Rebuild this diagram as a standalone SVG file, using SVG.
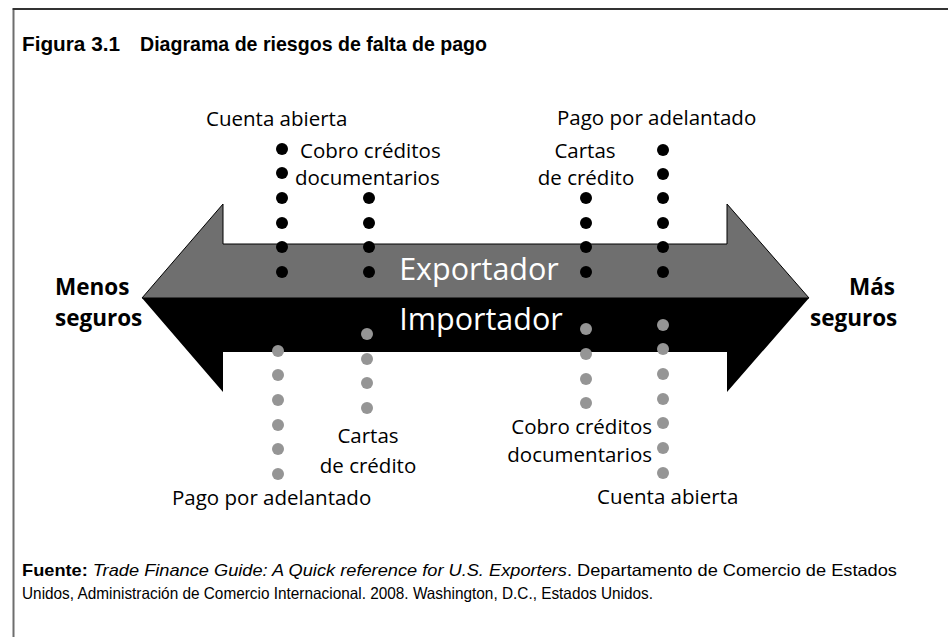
<svg xmlns="http://www.w3.org/2000/svg" width="948" height="637" viewBox="0 0 948 637">
<style>
.lbl{font-family:"Open Sans","Noto Sans",sans-serif;font-size:20.5px;fill:#000}
.side{font-family:"Open Sans","Noto Sans",sans-serif;font-size:22.5px;font-weight:bold;fill:#000}
.big{font-family:"Open Sans","Noto Sans",sans-serif;font-size:30.5px;fill:#fff;text-anchor:middle}
.title{font-family:"Liberation Sans",Arial,sans-serif;font-size:21px;font-weight:bold;fill:#000}
.foot{font-family:"Liberation Sans",Arial,sans-serif;font-size:16.5px;fill:#000}
.bd{fill:#000}
.gd{fill:#959595}
</style>
<rect width="948" height="637" fill="#fff"/>
<g id="frame">
<path d="M13.5,637 L13.5,9.5" stroke="#6e6e6e" stroke-width="2" fill="none"/>
<path d="M12.5,9 L948,9" stroke="#333" stroke-width="2" fill="none"/>
</g>
<g id="title">
<text class="title" x="22" y="51" textLength="98" lengthAdjust="spacingAndGlyphs">Figura 3.1</text>
<text class="title" x="140" y="51" textLength="347" lengthAdjust="spacingAndGlyphs">Diagrama de riesgos de falta de pago</text>
</g>
<g id="arrow">
<path d="M142,298 L223,204 L223,244 L727,244 L727,204 L809,298 Z" fill="#6f6f6f" stroke="#000" stroke-width="1"/>
<path d="M142,298 L809,298 L727,392 L727,352 L223,352 L223,392 Z" fill="#000"/>
</g>
<g id="connectors">
<g class="bd">
<circle cx="282" cy="149" r="6"/><circle cx="282" cy="173" r="6"/><circle cx="282" cy="198" r="6"/><circle cx="282" cy="223" r="6"/><circle cx="282" cy="247" r="6"/><circle cx="282" cy="272" r="6"/>
<circle cx="369" cy="198" r="6"/><circle cx="369" cy="223" r="6"/><circle cx="369" cy="247" r="6"/><circle cx="369" cy="272" r="6"/>
<circle cx="586" cy="198" r="6"/><circle cx="586" cy="223" r="6"/><circle cx="586" cy="247" r="6"/><circle cx="586" cy="272" r="6"/>
<circle cx="663" cy="150" r="6"/><circle cx="663" cy="174" r="6"/><circle cx="663" cy="198" r="6"/><circle cx="663" cy="223" r="6"/><circle cx="663" cy="247" r="6"/><circle cx="663" cy="272" r="6"/>
</g>
<g class="gd">
<circle cx="278" cy="351" r="6"/><circle cx="278" cy="375" r="6"/><circle cx="278" cy="400" r="6"/><circle cx="278" cy="425" r="6"/><circle cx="278" cy="449" r="6"/><circle cx="278" cy="474" r="6"/>
<circle cx="367" cy="334" r="6"/><circle cx="367" cy="359" r="6"/><circle cx="367" cy="383" r="6"/><circle cx="367" cy="408" r="6"/>
<circle cx="586" cy="329" r="6"/><circle cx="586" cy="354" r="6"/><circle cx="586" cy="379" r="6"/><circle cx="586" cy="403" r="6"/>
<circle cx="663" cy="325" r="6"/><circle cx="663" cy="349" r="6"/><circle cx="663" cy="374" r="6"/><circle cx="663" cy="399" r="6"/><circle cx="663" cy="423" r="6"/><circle cx="663" cy="448" r="6"/><circle cx="663" cy="473" r="6"/>
</g>
</g>
<g id="exportador"><text class="big" x="479" y="280">Exportador</text></g>
<g id="importador"><text class="big" x="481" y="330">Importador</text></g>
<g id="menos-seguros">
<text class="side" x="55" y="295">Menos</text>
<text class="side" x="55" y="326">seguros</text>
</g>
<g id="mas-seguros">
<text class="side" x="849" y="295">Más</text>
<text class="side" x="810" y="326">seguros</text>
</g>
<g id="exp-cuenta-abierta"><text class="lbl" x="206" y="126">Cuenta abierta</text></g>
<g id="exp-cobro"><text class="lbl" x="300" y="158">Cobro créditos</text><text class="lbl" x="295" y="185">documentarios</text></g>
<g id="exp-cartas"><text class="lbl" x="585" y="158" text-anchor="middle">Cartas</text><text class="lbl" x="586" y="185" text-anchor="middle">de crédito</text></g>
<g id="exp-pago"><text class="lbl" x="557" y="125">Pago por adelantado</text></g>
<g id="imp-pago"><text class="lbl" x="172" y="505">Pago por adelantado</text></g>
<g id="imp-cartas"><text class="lbl" x="368" y="443" text-anchor="middle">Cartas</text><text class="lbl" x="368" y="473" text-anchor="middle">de crédito</text></g>
<g id="imp-cobro"><text class="lbl" x="652" y="434" text-anchor="end">Cobro créditos</text><text class="lbl" x="652" y="462" text-anchor="end">documentarios</text></g>
<g id="imp-cuenta-abierta"><text class="lbl" x="597" y="504">Cuenta abierta</text></g>
<g id="source">
<text class="foot" x="22" y="576" textLength="875" lengthAdjust="spacingAndGlyphs"><tspan font-weight="bold">Fuente:</tspan> <tspan font-style="italic">Trade Finance Guide: A Quick reference for U.S. Exporters</tspan>. Departamento de Comercio de Estados</text>
<text class="foot" x="22" y="599" textLength="631" lengthAdjust="spacingAndGlyphs">Unidos, Administración de Comercio Internacional. 2008. Washington, D.C., Estados Unidos.</text>
</g>
</svg>
